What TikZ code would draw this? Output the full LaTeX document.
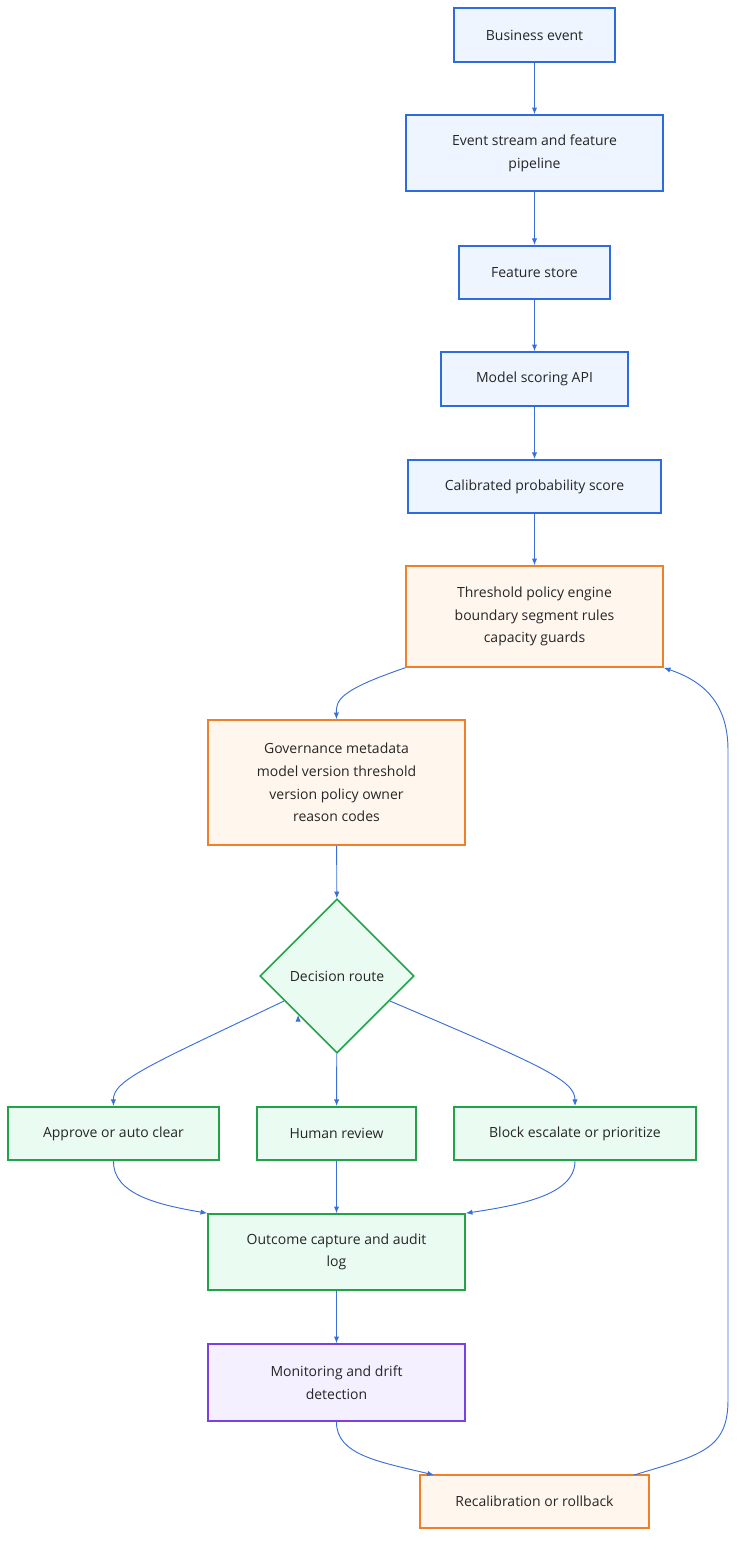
\documentclass[tikz,border=0pt]{standalone}
\usepackage{fontspec}
\setmainfont{Open Sans}
\usetikzlibrary{shapes.geometric,arrows.meta}
\definecolor{bs}{HTML}{2F6BE0}\definecolor{bf}{HTML}{EEF5FF}
\definecolor{os}{HTML}{F07F2A}\definecolor{of}{HTML}{FFF6EE}
\definecolor{gs}{HTML}{22A34A}\definecolor{gf}{HTML}{EAFBF1}
\definecolor{ps}{HTML}{7B3FE4}\definecolor{pf}{HTML}{F4F0FF}
\definecolor{ar}{HTML}{3A6FD8}
\begin{document}
\begin{tikzpicture}[x=0.75pt,y=-0.75pt,
 every node/.style={font=\fontsize{10.5}{17}\selectfont,align=center,inner sep=0,line width=1.2pt,text=black!85},
 box/.style={draw,minimum width=#1*0.75pt},
 b/.style={box=#1,draw=bs,fill=bf},
 o/.style={box=#1,draw=os,fill=of},
 g/.style={box=#1,draw=gs,fill=gf},
 p/.style={box=#1,draw=ps,fill=pf},
 a/.style={draw=ar,line width=0.7pt,-{Latex[length=5pt,width=4pt]}}]
\useasboundingbox (0,0) rectangle (745,1553);
\node[b=161,minimum height=40.5pt] (n1) at (534.5,35) {Business event};
\node[b=257,minimum height=57pt] (n2) at (534.5,153) {Event stream and feature\\pipeline};
\node[b=151,minimum height=40pt] (n3) at (534.5,272.5) {Feature store};
\node[b=187,minimum height=40.5pt] (n4) at (534.5,379) {Model scoring API};
\node[b=253,minimum height=40pt] (n5) at (534.5,486.5) {Calibrated probability score};
\node[o=257,minimum height=75.75pt] (n6) at (534.5,616.5) {Threshold policy engine\\boundary segment rules\\capacity guards};
\node[o=257,minimum height=93.75pt] (n7) at (336.5,782.5) {Governance metadata\\model version threshold\\version policy owner\\reason codes};
\node[diamond,draw=gs,fill=gf,minimum width=115.5pt,minimum height=115.5pt] (d) at (337,976) {Decision route};
\node[g=211,minimum height=40pt] (r1) at (113.5,1133.5) {Approve or auto clear};
\node[g=159,minimum height=40pt] (r2) at (336.5,1133.5) {Human review};
\node[g=242,minimum height=40pt] (r3) at (575,1133.5) {Block escalate or prioritize};
\node[g=257,minimum height=57pt] (n8) at (336.5,1252) {Outcome capture and audit\\log};
\node[p=257,minimum height=57.75pt] (n9) at (336.5,1382.5) {Monitoring and drift\\detection};
\node[o=229,minimum height=40pt] (n10) at (534.5,1501.5) {Recalibration or rollback};
\draw[a] (n1) -- (n2);
\draw[a] (n2) -- (n3);
\draw[a] (n3) -- (n4);
\draw[a] (n4) -- (n5);
\draw[a] (n5) -- (n6);
\draw[a] (n6.south west) .. controls (340,690) and (336,700) .. (n7.north);
\draw[a] (n7) -- (d);
\draw[a] (d.south west) ++(0,0) coordinate (dl);
\draw[a] (284,1001) .. controls (150,1065) and (113,1080) .. (r1.north);
\draw[a] (d) -- (r2);
\draw[a] (390,1001) .. controls (540,1065) and (575,1080) .. (r3.north);
\draw[a] (r1.south) .. controls (113,1195) and (160,1205) .. (n8.north west);
\draw[a] (r2) -- (n8);
\draw[a] (r3.south) .. controls (575,1195) and (520,1205) .. (n8.north east);
\draw[a] (n8) -- (n9);
\draw[a] (n9.south) .. controls (336,1455) and (380,1462) .. (434,1475);
\draw[a] (634,1475) .. controls (700,1455) and (728,1450) .. (728,1400) -- (728,750) .. controls (728,700) and (700,680) .. (n6.south east);
\end{tikzpicture}
\end{document}
